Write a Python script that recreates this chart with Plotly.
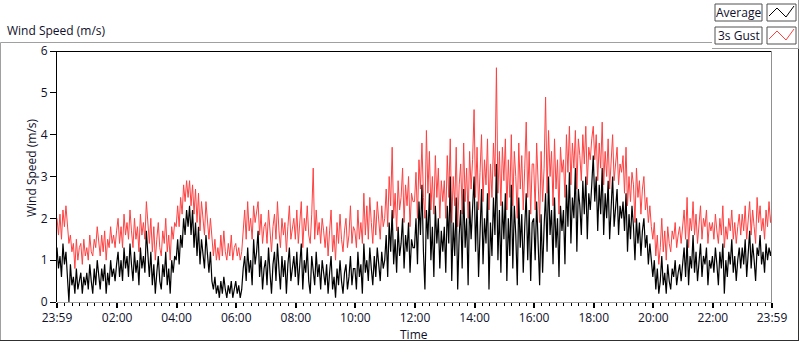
import plotly.graph_objects as go

# ---- data (3-minute samples; one row per hour) ----
avg_speed = [
    1.3, 0.8, 1.1, 0.6, 1.4, 0.9, 1.2, 0.7, 0.0, 0.9, 0.4, 0.6, 0.2, 0.8, 0.3, 0.5, 0.7, 0.2, 0.6, 0.4,
    0.7, 0.3, 0.9, 0.5, 0.2, 0.8, 0.4, 1.0, 0.6, 0.3, 0.8, 0.5, 0.9, 0.2, 0.7, 0.4, 1.0, 0.6, 0.8, 0.5,
    0.9, 1.2, 0.6, 1.0, 0.5, 1.3, 0.8, 1.1, 0.6, 1.4, 0.9, 0.5, 1.2, 0.7, 1.0, 0.4, 1.3, 0.8, 1.1, 0.7,
    1.7, 1.0, 0.6, 1.2, 0.4, 0.9, 0.2, 0.7, 1.1, 0.5, 0.3, 0.9, 0.6, 1.2, 0.4, 0.8, 0.2, 1.0, 0.7, 1.1,
    1.0, 1.5, 0.9, 1.6, 1.3, 2.0, 1.6, 2.2, 1.8, 2.3, 1.6, 2.2, 1.3, 1.9, 1.1, 1.8, 0.9, 1.5, 1.2, 0.8,
    1.6, 1.1, 0.7, 1.2, 0.5, 0.3, 0.6, 0.2, 0.4, 0.1, 0.5, 0.2, 0.6, 0.3, 0.1, 0.4, 0.2, 0.5, 0.1, 0.3,
    0.5, 0.2, 0.4, 0.1, 0.3, 0.8, 1.1, 0.5, 1.3, 0.7, 1.0, 0.4, 1.5, 0.9, 1.2, 1.7, 0.6, 1.1, 0.3, 0.8,
    1.0, 0.4, 1.3, 0.7, 0.2, 0.9, 1.2, 0.5, 1.4, 0.8, 0.3, 1.1, 0.6, 1.0, 0.2, 0.9, 1.3, 0.5, 0.8, 1.1,
    0.6, 1.2, 0.4, 0.9, 1.4, 0.3, 1.0, 0.7, 1.3, 0.5, 0.2, 1.1, 0.8, 0.4, 1.2, 0.6, 0.9, 0.3, 1.0, 0.7,
    0.4, 0.9, 0.2, 0.7, 1.1, 0.3, 0.6, 0.1, 0.8, 0.4, 1.0, 0.5, 0.2, 0.7, 0.9, 0.3, 0.6, 1.1, 0.4, 0.8,
    0.8, 0.3, 1.2, 0.6, 0.9, 0.2, 1.4, 0.7, 1.0, 0.5, 1.3, 0.8, 0.4, 1.1, 0.6, 1.3, 0.9, 0.5, 1.2, 0.8,
    1.0, 1.6, 0.6, 1.9, 1.2, 2.2, 0.9, 1.5, 0.7, 1.8, 1.1, 1.4, 2.0, 0.8, 1.6, 1.2, 1.9, 0.7, 1.5, 1.3,
    1.3, 2.0, 0.9, 2.4, 1.6, 2.8, 1.2, 0.3, 2.2, 1.5, 2.6, 1.0, 1.8, 0.6, 2.3, 1.4, 2.0, 0.8, 1.7, 1.2,
    1.8, 0.7, 2.3, 1.4, 3.0, 0.5, 1.9, 1.1, 2.5, 0.3, 1.6, 2.2, 0.8, 2.7, 1.3, 2.0, 0.4, 2.4, 1.5, 2.1,
    3.0, 1.2, 2.4, 0.6, 1.8, 2.7, 0.9, 2.0, 1.4, 2.6, 0.3, 1.9, 1.1, 2.5, 1.6, 3.3, 1.0, 2.2, 0.7, 2.4,
    1.5, 2.6, 0.5, 2.0, 1.1, 2.8, 0.8, 2.3, 1.6, 0.4, 2.5, 1.3, 2.1, 0.7, 1.8, 2.6, 1.0, 2.2, 0.5, 1.9,
    2.0, 1.0, 2.4, 1.4, 0.4, 2.1, 0.7, 1.8, 2.6, 1.2, 3.0, 1.6, 2.2, 0.9, 2.5, 1.3, 2.0, 0.6, 2.3, 1.7,
    2.2, 0.9, 2.8, 1.8, 3.1, 1.4, 2.5, 2.0, 3.2, 1.2, 2.7, 2.3, 1.6, 2.9, 2.1, 3.0, 1.5, 2.6, 2.2, 2.8,
    3.5, 2.4, 3.0, 1.7, 2.8, 2.1, 3.2, 1.6, 2.6, 2.0, 2.9, 1.5, 2.5, 3.0, 1.8, 2.4, 2.7, 1.6, 2.3, 2.0,
    2.4, 1.7, 2.6, 1.2, 2.1, 1.5, 2.3, 1.8, 1.0, 2.0, 1.4, 1.9, 1.1, 1.7, 2.0, 1.3, 1.6, 0.9, 1.4, 1.0,
    0.6, 1.0, 0.3, 0.8, 0.2, 0.5, 1.1, 0.4, 0.7, 0.2, 0.9, 0.5, 0.3, 0.8, 0.6, 1.0, 0.4, 0.7, 0.9, 0.5,
    0.9, 1.3, 0.6, 1.5, 0.4, 1.1, 0.8, 1.6, 0.7, 1.2, 0.5, 1.0, 1.4, 0.6, 1.1, 0.9, 1.3, 0.4, 1.0, 0.8,
    1.1, 0.7, 1.3, 0.9, 0.4, 1.2, 0.8, 1.4, 0.2, 1.0, 0.6, 1.2, 0.9, 1.5, 0.7, 1.1, 0.5, 1.0, 1.3, 0.8,
    1.3, 0.9, 1.5, 0.6, 1.2, 1.7, 0.8, 1.4, 1.0, 0.5, 1.3, 1.1, 1.6, 0.9, 1.2, 0.7, 1.4, 1.0, 1.3, 1.1,
    1.3,
]
gust_speed = [
    2.0, 1.6, 2.1, 1.5, 2.2, 1.8, 2.3, 1.7, 1.4, 1.6, 1.2, 1.4, 0.8, 1.5, 1.0, 1.3, 1.4, 0.9, 1.5, 1.1,
    1.3, 1.0, 1.6, 1.2, 1.1, 1.5, 1.3, 1.8, 1.4, 1.1, 1.6, 1.2, 1.7, 1.0, 1.5, 1.3, 1.8, 1.4, 1.6, 1.3,
    1.7, 2.0, 1.4, 1.8, 1.3, 2.1, 1.6, 1.9, 1.5, 2.2, 1.7, 1.3, 2.0, 1.5, 1.8, 1.2, 2.1, 1.6, 1.9, 1.5,
    2.4, 1.9, 1.4, 2.0, 1.2, 1.8, 1.0, 1.5, 1.9, 1.3, 1.1, 1.7, 1.4, 2.0, 1.2, 1.6, 1.0, 1.8, 1.5, 1.9,
    1.8, 2.3, 1.8, 2.5, 2.1, 2.8, 2.4, 2.9, 2.5, 2.9, 2.3, 2.8, 2.1, 2.7, 1.9, 2.6, 1.7, 2.4, 2.0, 1.6,
    2.4, 1.9, 1.5, 2.0, 1.4, 1.1, 1.5, 1.0, 1.3, 1.0, 1.6, 1.1, 1.7, 1.2, 1.0, 1.4, 1.1, 1.6, 1.0, 1.3,
    1.4, 1.1, 1.3, 1.0, 1.2, 1.8, 2.2, 1.5, 2.4, 1.7, 2.0, 1.5, 2.3, 1.9, 2.1, 2.4, 1.6, 2.1, 1.4, 1.8,
    1.9, 1.4, 2.2, 1.6, 1.2, 1.8, 2.1, 1.5, 2.4, 1.7, 1.3, 2.0, 1.6, 1.9, 1.2, 1.8, 2.3, 1.5, 1.7, 2.0,
    1.5, 2.2, 1.4, 1.9, 2.4, 1.3, 2.0, 1.7, 2.3, 1.6, 1.4, 2.1, 3.2, 1.5, 2.2, 1.6, 1.9, 1.4, 2.0, 1.7,
    1.3, 1.8, 1.1, 1.7, 2.2, 1.2, 1.6, 1.0, 1.9, 1.4, 2.1, 1.5, 1.2, 1.7, 2.0, 1.3, 1.6, 2.3, 1.4, 1.8,
    1.7, 1.3, 2.2, 1.5, 1.9, 1.4, 2.6, 1.6, 2.3, 1.5, 2.5, 1.9, 1.4, 2.2, 1.6, 2.4, 2.0, 1.5, 2.3, 1.8,
    2.0, 2.7, 1.8, 3.0, 2.3, 3.7, 2.0, 2.6, 1.7, 2.9, 2.2, 2.5, 3.2, 1.9, 2.8, 2.3, 3.0, 1.8, 2.6, 2.4,
    2.4, 3.1, 2.0, 3.4, 2.7, 3.8, 2.5, 2.0, 4.1, 2.6, 3.6, 2.2, 3.0, 2.1, 3.5, 2.5, 3.2, 2.0, 2.9, 2.4,
    2.9, 2.0, 3.5, 2.5, 3.9, 1.9, 3.0, 2.3, 3.7, 1.8, 2.8, 3.3, 2.1, 3.8, 2.4, 3.2, 2.0, 3.6, 2.7, 3.4,
    4.6, 2.5, 3.7, 2.2, 3.1, 4.0, 2.4, 3.4, 2.8, 3.9, 2.2, 3.3, 2.5, 3.8, 3.0, 5.6, 2.6, 3.6, 2.3, 3.7,
    2.9, 3.9, 2.2, 3.4, 2.5, 4.0, 2.3, 3.6, 3.0, 2.0, 3.8, 2.7, 3.5, 2.2, 3.2, 4.3, 2.5, 3.6, 2.1, 3.3,
    3.3, 2.2, 3.8, 2.8, 1.9, 3.6, 2.4, 3.2, 4.9, 2.6, 4.1, 3.0, 3.6, 2.3, 3.9, 2.7, 3.4, 2.1, 3.7, 3.1,
    3.4, 2.5, 4.0, 3.1, 4.2, 2.8, 3.8, 3.2, 4.1, 2.7, 3.9, 3.5, 2.9, 4.0, 3.3, 4.2, 2.8, 3.7, 3.4, 3.9,
    4.2, 3.4, 4.0, 2.9, 3.8, 3.2, 4.3, 2.8, 3.6, 3.0, 3.9, 2.7, 3.5, 4.0, 2.9, 3.4, 3.7, 2.8, 3.3, 3.1,
    3.5, 2.6, 3.7, 2.3, 3.0, 2.4, 3.1, 2.8, 1.9, 3.2, 2.5, 2.9, 2.1, 2.7, 3.0, 2.2, 2.5, 1.9, 2.3, 1.8,
    1.5, 1.9, 1.1, 1.6, 0.9, 1.3, 2.0, 1.2, 1.7, 1.0, 1.8, 1.4, 1.2, 1.7, 1.5, 1.9, 1.3, 1.6, 1.8, 1.4,
    1.8, 2.2, 1.5, 2.5, 1.3, 2.0, 1.7, 2.4, 1.6, 2.1, 1.4, 1.9, 2.3, 1.5, 2.0, 1.8, 2.2, 1.4, 1.9, 1.7,
    1.9, 1.5, 2.1, 1.7, 1.4, 2.0, 1.6, 2.3, 1.3, 1.8, 1.5, 2.0, 1.7, 2.2, 1.5, 1.9, 1.4, 1.8, 2.1, 1.6,
    2.1, 1.7, 2.3, 1.5, 2.0, 2.4, 1.6, 2.2, 1.8, 1.4, 2.5, 1.9, 2.3, 1.7, 2.0, 1.5, 2.2, 1.8, 2.4, 1.9,
    2.2,
]
sample_step_min = 3
minutes = [i * sample_step_min for i in range(len(avg_speed))]  # minutes after 23:59

tick_labels = ["23:59", "02:00", "04:00", "06:00", "08:00", "10:00", "12:00",
               "14:00", "16:00", "18:00", "20:00", "22:00", "23:59"]
tick_minutes = [0, 121, 241, 361, 481, 601, 721, 841, 961, 1081, 1201, 1321, 1440]
minor_minutes = [m for m in range(1, 1441, 15)]

series_names = ["Average", "3s Gust"]
series_colors = ["#000000", "#ff4040"]

FONT = "Open Sans"
TXT = "#10102a"

W, H = 800, 342
L, R, T, B = 57, 772, 51, 302


def px(x):
    return (x - L) / (R - L)


def py(y):
    return (B - y) / (B - T)


fig = go.Figure()
fig.add_trace(go.Scatter(x=minutes, y=gust_speed, mode="lines", name=series_names[1],
                         line=dict(color=series_colors[1], width=1), showlegend=False))
fig.add_trace(go.Scatter(x=minutes, y=avg_speed, mode="lines", name=series_names[0],
                         line=dict(color=series_colors[0], width=1.2), showlegend=False))

shapes = []


def line(x0, y0, x1, y1, color, width=1):
    shapes.append(dict(type="line", xref="paper", yref="paper",
                       x0=px(x0), y0=py(y0), x1=px(x1), y1=py(y1),
                       line=dict(color=color, width=width), layer="above"))


# outer panel frame
line(0.5, 42.5, 712, 42.5, "#a0a0a0")
line(0.5, 42.5, 0.5, 340.5, "#a0a0a0")
line(0, 340.5, 799, 340.5, "#303030")
line(798.5, 48, 798.5, 341, "#303030")
# legend panel frame
line(712, 48.5, 799, 48.5, "#a0a0a0")
line(798.5, 0, 798.5, 48.5, "#a0a0a0")
# plot frame
line(L, T + 0.5, R, T + 0.5, "#000000")
line(R - 0.5, T, R - 0.5, B, "#909090")
line(L, B + 0.5, R, B + 0.5, "#a0a0a0")

# legend boxes
for i, (nm, col) in enumerate(zip(series_names, series_colors)):
    y0 = 4 + 23 * i
    y1 = 21 + 23 * i
    for (a, b) in [(715, 762), (767, 796)]:
        shapes.append(dict(type="rect", xref="paper", yref="paper",
                           x0=px(a), x1=px(b), y0=py(y0), y1=py(y1),
                           line=dict(color="#505050", width=1), fillcolor="white", layer="above"))
    pts = [(769, 16), (777, 8), (786, 17), (794, 6)]
    path = "M " + " L ".join(f"{px(x)},{py(y + 23 * i)}" for x, y in pts)
    shapes.append(dict(type="path", xref="paper", yref="paper", path=path,
                       line=dict(color=col, width=1), layer="above"))

annotations = [
    dict(text="Wind Speed (m/s)", x=px(5), y=py(30), xref="paper", yref="paper",
         xanchor="left", yanchor="middle", showarrow=False, font=dict(family=FONT, size=12, color=TXT)),
    dict(text="Wind Speed (m/s)", x=px(31), y=py(168), xref="paper", yref="paper",
         textangle=-90, xanchor="center", yanchor="middle", showarrow=False,
         font=dict(family=FONT, size=12, color=TXT)),
    dict(text="Time", x=px(414), y=py(334), xref="paper", yref="paper",
         xanchor="center", yanchor="middle", showarrow=False, font=dict(family=FONT, size=12, color=TXT)),
]
for i, nm in enumerate(series_names):
    annotations.append(dict(text=nm, x=px(738.5), y=py(12.5 + 23 * i), xref="paper", yref="paper",
                            xanchor="center", yanchor="middle", showarrow=False,
                            font=dict(family=FONT, size=12, color=TXT)))

fig.update_layout(
    width=W, height=H,
    margin=dict(l=L, r=W - R, t=T, b=H - B, pad=0),
    paper_bgcolor="white", plot_bgcolor="white",
    shapes=shapes, annotations=annotations,
    xaxis=dict(range=[0, 1440], tickvals=tick_minutes, ticktext=tick_labels,
               ticks="outside", ticklen=5, tickwidth=2, tickcolor="#000",
               minor=dict(tickvals=minor_minutes, ticks="outside", ticklen=3, tickwidth=1, tickcolor="#000"),
               showgrid=False, zeroline=False, showline=False,
               tickfont=dict(family=FONT, size=12, color=TXT)),
    yaxis=dict(range=[0, 6], tickvals=[0, 1, 2, 3, 4, 5, 6], ticks="outside", ticklen=6,
               tickwidth=1, tickcolor="#000", showgrid=False, zeroline=False,
               showline=True, linecolor="#000", linewidth=1,
               tickfont=dict(family=FONT, size=12, color=TXT)),
    font=dict(family=FONT, size=12, color=TXT),
)

fig.write_html("out.html", config={"displayModeBar": False},
               post_script="document.body.style.margin='0';document.body.style.overflow='hidden';")
